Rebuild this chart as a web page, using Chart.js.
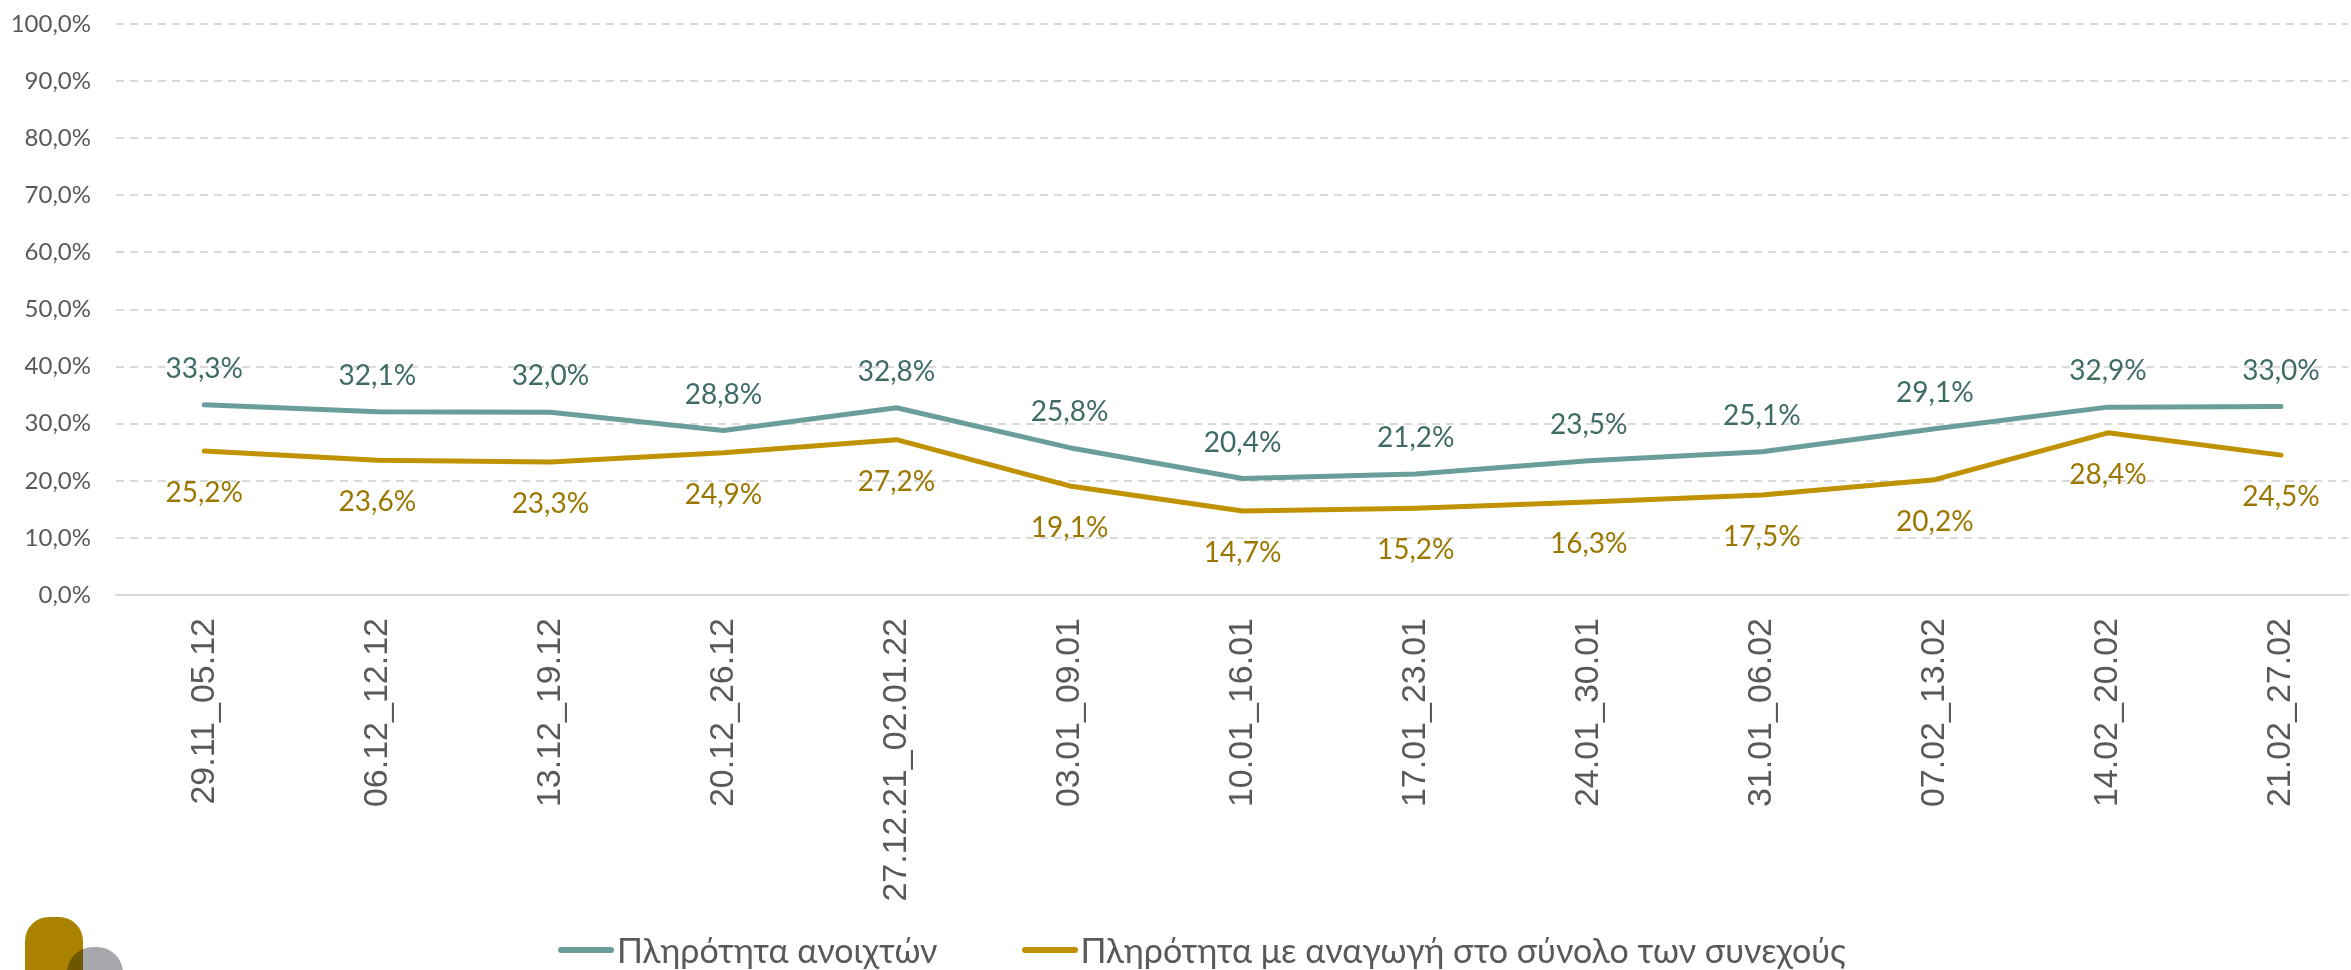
<!DOCTYPE html>
<html>
<head>
<meta charset="utf-8">
<script src="https://cdn.jsdelivr.net/npm/chart.js@4.4.1/dist/chart.umd.min.js"></script>
<style>
  html, body { margin: 0; padding: 0; background: #fff; }
  #wrap { position: relative; width: 2351px; height: 970px; overflow: hidden; }
  #chart { position: absolute; left: 0; top: 0; }
  #legend {
    position: absolute; left: 558px; top: 930px; height: 40px; line-height: 40px;
    display: flex; align-items: center; white-space: nowrap;
    font-family: Lato, sans-serif; font-weight: 400; font-size: 34px; color: #595959;
  }
  .item { display: flex; align-items: center; margin-right: 84px; }
  .swatch { width: 56px; height: 6px; border-radius: 3px; margin-right: 3px; }
  .logo-a { position: absolute; left: 25px; top: 917px; width: 58px; height: 80px;
            background: #aa8200; border-radius: 24px 24px 0 0; }
  .logo-b { position: absolute; left: 67px; top: 947px; width: 56px; height: 60px;
            background: #a6a8ab; border-radius: 26px 26px 0 0; mix-blend-mode: multiply; }
</style>
</head>
<body>
<div id="wrap">
  <canvas id="chart" width="2351" height="970"></canvas>
  <div class="logo-a"></div>
  <div class="logo-b"></div>
  <div id="legend"></div>
</div>
<script>
// εβδομάδες
let weeks = [
   "29.11_05.12", "06.12_12.12", "13.12_19.12", "20.12_26.12",
   "27.12.21_02.01.22", "03.01_09.01", "10.01_16.01", "17.01_23.01",
   "24.01_30.01", "31.01_06.02", "07.02_13.02", "14.02_20.02", "21.02_27.02"
];

let openBeds = [33.3, 32.1, 32.0, 28.8, 32.8, 25.8, 20.4, 21.2, 23.5, 25.1, 29.1, 32.9, 33.0];
let reducedBeds = [25.2, 23.6, 23.3, 24.9, 27.2, 19.1, 14.7, 15.2, 16.3, 17.5, 20.2, 28.4, 24.5];

let seriesNames = [
   "Πληρότητα ανοιχτών",
   "Πληρότητα με αναγωγή στο σύνολο των συνεχούς"
];

let yTicks = [0, 10, 20, 30, 40, 50, 60, 70, 80, 90, 100];

// πλαίσιο περιοχής σχεδίασης (όπως στο πρωτότυπο)
let plotBox = { left: 116, top: 24, bottom: 595 };

function pct(v){
   return v.toFixed(1).replace(".", ",") + "%";
}

function toPoints(arr){
   return arr.map((v, i) => ({ x: i, y: v }));
}

/* ετικέτες τιμών πάνω/κάτω από τα σημεία */
const valueLabels = {
   id: "valueLabels",
   afterDatasetsDraw(chart){
      let ctx = chart.ctx;
      chart.data.datasets.forEach((ds, i) => {
         let meta = chart.getDatasetMeta(i);
         ctx.save();
         ctx.font = "28px Lato";
         ctx.fillStyle = ds.labelColor;
         ctx.textAlign = "center";
         ctx.textBaseline = "middle";
         meta.data.forEach((pt, j) => {
            ctx.fillText(pct(ds.data[j].y), pt.x, pt.y + ds.labelOffset);
         });
         ctx.restore();
      });
   }
};

function draw(){

   let chart = new Chart(document.getElementById("chart"), {

      type: "line",

      data: {
         datasets: [{
            label: seriesNames[0],
            data: toPoints(openBeds),
            borderColor: "#6a9e9a",
            backgroundColor: "#6a9e9a",
            labelColor: "#3f6b66",
            labelOffset: -36,
            borderWidth: 5,
            pointRadius: 0,
            tension: 0,
            borderCapStyle: "round",
            borderJoinStyle: "round"
         }, {
            label: seriesNames[1],
            data: toPoints(reducedBeds),
            borderColor: "#c09200",
            backgroundColor: "#c09200",
            labelColor: "#9c7700",
            labelOffset: 42,
            borderWidth: 5,
            pointRadius: 0,
            tension: 0,
            borderCapStyle: "round",
            borderJoinStyle: "round"
         }]
      },

      options: {
         responsive: false,
         animation: false,
         devicePixelRatio: 1,
         layout: { padding: { top: 24, left: 0, right: 0, bottom: 50 } },
         plugins: {
            legend: { display: false },
            tooltip: { enabled: false }
         },
         scales: {
            x: {
               type: "linear",
               min: -0.51,
               max: 12.39,
               afterBuildTicks(axis){
                  axis.ticks = weeks.map((w, i) => ({ value: i }));
               },
               grid: { display: false, drawTicks: false },
               border: { display: true, color: "#d9d9d9", width: 2 },
               ticks: {
                  autoSkip: false,
                  minRotation: 90,
                  maxRotation: 90,
                  padding: 23,
                  color: "#595959",
                  font: { family: "Liberation Sans", size: 34 },
                  callback: v => weeks[v]
               }
            },
            y: {
               min: 0,
               max: 100,
               afterBuildTicks(axis){
                  axis.ticks = yTicks.map(v => ({ value: v }));
               },
               // το κενό μέχρι τις ετικέτες μέσω tickLength (αόρατο tick)
               grid: {
                  color: "#d9d9d9",
                  lineWidth: 2,
                  drawTicks: true,
                  tickLength: 25,
                  tickColor: "rgba(0,0,0,0)"
               },
               border: { display: false, dash: [8, 6] },
               ticks: {
                  padding: 0,
                  color: "#595959",
                  font: { family: "Lato", size: 24 },
                  callback: v => pct(v)
               }
            }
         }
      },

      plugins: [valueLabels]
   });

   // ρύθμιση περιθωρίων ώστε η περιοχή σχεδίασης να πέσει στο πλαίσιο
   for(let k = 0; k < 2; k++){
      let area = chart.chartArea;
      let pad = chart.options.layout.padding;
      chart.options.layout.padding = {
         top: pad.top + (plotBox.top - area.top),
         left: pad.left + (plotBox.left - area.left),
         right: 0,
         bottom: pad.bottom + (area.bottom - plotBox.bottom)
      };
      chart.update();
   }

   // υπόμνημα
   let legend = document.getElementById("legend");
   chart.data.datasets.forEach(ds => {
      let item = document.createElement("div");
      item.className = "item";
      let sw = document.createElement("span");
      sw.className = "swatch";
      sw.style.background = ds.borderColor;
      let tx = document.createElement("span");
      tx.textContent = ds.label;
      item.appendChild(sw);
      item.appendChild(tx);
      legend.appendChild(item);
   });
}

Promise.all([
   document.fonts.load("28px Lato"),
   document.fonts.load("34px Lato"),
   document.fonts.load("34px 'Liberation Sans'")
]).then(draw, draw);
</script>
</body>
</html>
